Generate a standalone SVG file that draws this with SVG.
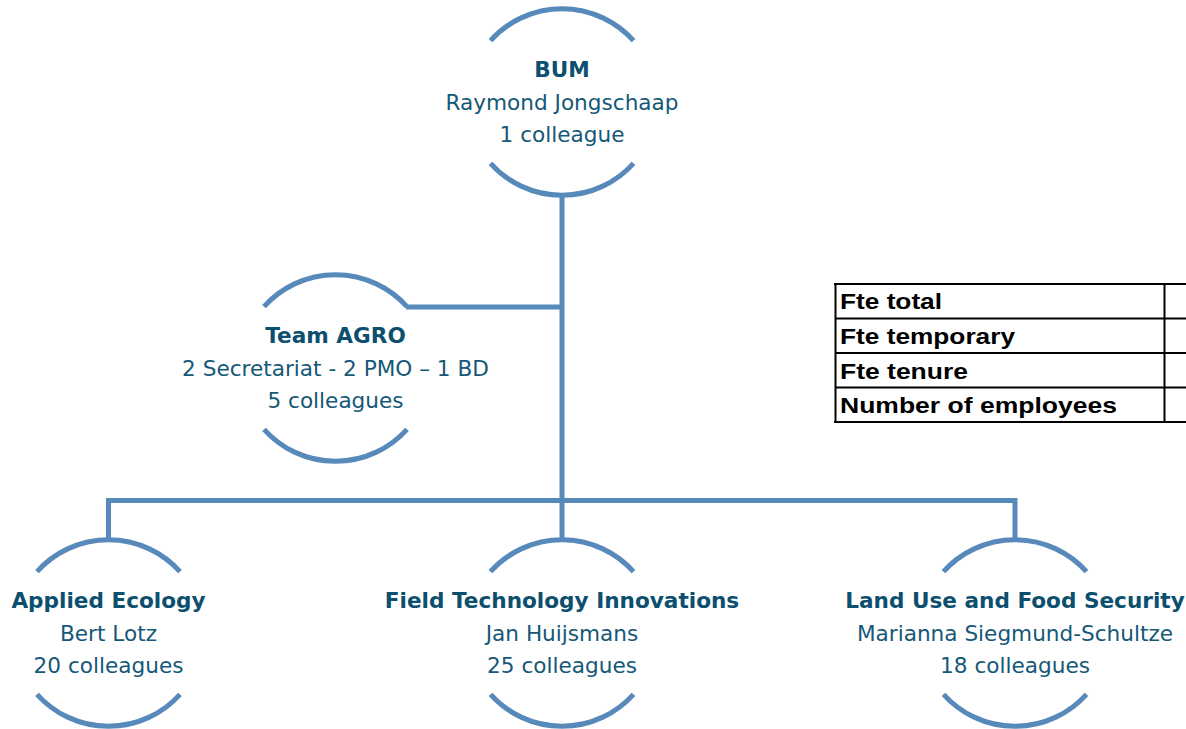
<svg xmlns="http://www.w3.org/2000/svg" width="1186" height="729" viewBox="0 0 1186 729">
<style>
.arc{fill:none;stroke:#5889bb;stroke-width:5}
.con{fill:none;stroke:#5889bb;stroke-width:5}
.t{font-family:"DejaVu Sans",Verdana,sans-serif;font-size:21.6px;text-anchor:middle;fill:#155877}
.b{font-weight:bold;fill:#0c4f6e}
.tb{font-family:"Liberation Sans",Arial,sans-serif;font-size:21.5px;font-weight:bold;fill:#000}
.tl{stroke:#000;stroke-width:2;fill:none}
</style>
<rect width="1186" height="729" fill="#fff"/>
<g id="connectors">
<path class="con" d="M562 195 V540"/>
<path class="con" d="M406 307 H562"/>
<path class="con" d="M108.5 540 V500.5 H1015 V540"/>
</g>
<g id="bum">
<path class="arc" d="M490.5 40.7 A96 96 0 0 1 633.5 40.7"/>
<path class="arc" d="M490.5 163.3 A96 96 0 0 0 633.5 163.3"/>
<text class="t b" x="562" y="77.3">BUM</text>
<text class="t" x="562" y="110">Raymond Jongschaap</text>
<text class="t" x="562" y="141.7">1 colleague</text>
</g>
<g id="team-agro">
<path class="arc" d="M264 306.7 A96 96 0 0 1 407 306.7"/>
<path class="arc" d="M264 429.3 A96 96 0 0 0 407 429.3"/>
<text class="t b" x="335.5" y="343.3">Team AGRO</text>
<text class="t" x="335.5" y="376">2 Secretariat - 2 PMO – 1 BD</text>
<text class="t" x="335.5" y="407.7">5 colleagues</text>
</g>
<g id="applied-ecology">
<path class="arc" d="M37 571.7 A96 96 0 0 1 180 571.7"/>
<path class="arc" d="M37 694.3 A96 96 0 0 0 180 694.3"/>
<text class="t b" x="108.5" y="608.3">Applied Ecology</text>
<text class="t" x="108.5" y="641">Bert Lotz</text>
<text class="t" x="108.5" y="672.7">20 colleagues</text>
</g>
<g id="field-tech">
<path class="arc" d="M490.5 571.7 A96 96 0 0 1 633.5 571.7"/>
<path class="arc" d="M490.5 694.3 A96 96 0 0 0 633.5 694.3"/>
<text class="t b" x="562" y="608.3">Field Technology Innovations</text>
<text class="t" x="562" y="641">Jan Huijsmans</text>
<text class="t" x="562" y="672.7">25 colleagues</text>
</g>
<g id="land-use">
<path class="arc" d="M943.5 571.7 A96 96 0 0 1 1086.5 571.7"/>
<path class="arc" d="M943.5 694.3 A96 96 0 0 0 1086.5 694.3"/>
<text class="t b" x="1015" y="608.3">Land Use and Food Security</text>
<text class="t" x="1015" y="641">Marianna Siegmund-Schultze</text>
<text class="t" x="1015" y="672.7">18 colleagues</text>
</g>
<g id="fte-table">
<path class="tl" d="M834 284 H1186" stroke-width="3"/>
<path class="tl" d="M835 318.5 H1186"/>
<path class="tl" d="M835 353 H1186"/>
<path class="tl" d="M835 387.5 H1186"/>
<path class="tl" d="M834 422 H1186" stroke-width="2.5"/>
<path class="tl" d="M835.5 283 V423" stroke-width="2.5"/>
<path class="tl" d="M1164.5 284 V422"/>
<text class="tb" x="840" y="309.3" textLength="102" lengthAdjust="spacingAndGlyphs">Fte total</text>
<text class="tb" x="840" y="343.5" textLength="175" lengthAdjust="spacingAndGlyphs">Fte temporary</text>
<text class="tb" x="840" y="378.5" textLength="128" lengthAdjust="spacingAndGlyphs">Fte tenure</text>
<text class="tb" x="840" y="413" textLength="277" lengthAdjust="spacingAndGlyphs">Number of employees</text>
</g>
</svg>
